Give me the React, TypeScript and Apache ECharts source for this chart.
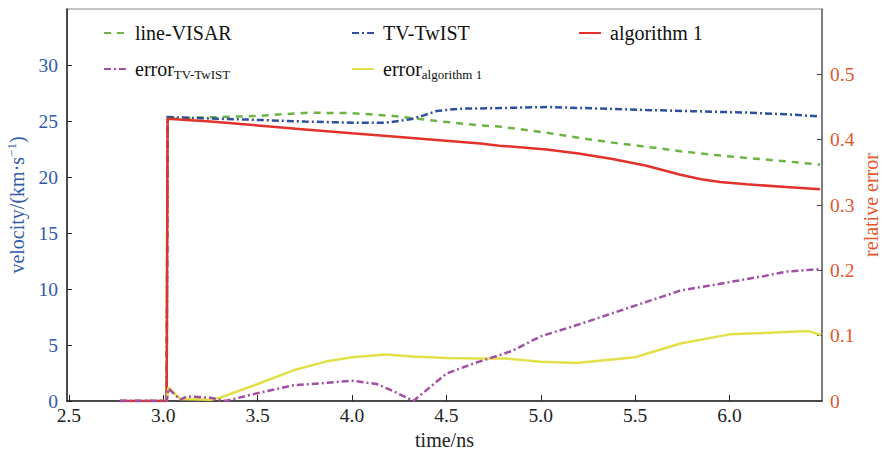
import React, { useEffect, useRef } from "react";
import * as echarts from "echarts";

// ---- data ----
const xTicks = [2.5, 3.0, 3.5, 4.0, 4.5, 5.0, 5.5, 6.0];
const leftTicks = [0, 5, 10, 15, 20, 25, 30];
const rightTicks = [0, 0.1, 0.2, 0.3, 0.4, 0.5];

const visarT = [2.77, 3.018, 3.023, 3.06, 3.15, 3.3, 3.5, 3.65, 3.78, 4.0, 4.22, 4.45, 4.68, 4.78, 5.03, 5.2, 5.38, 5.56, 5.74, 5.9, 6.09, 6.3, 6.48];
const visarV = [0, 0, 25.6, 25.2, 25.3, 25.35, 25.45, 25.62, 25.74, 25.7, 25.45, 25.0, 24.6, 24.5, 23.96, 23.5, 23.07, 22.7, 22.3, 22.0, 21.7, 21.4, 21.1];

const twistT = [2.77, 3.018, 3.023, 3.2, 3.5, 3.75, 4.0, 4.18, 4.31, 4.38, 4.45, 4.57, 4.78, 5.03, 5.3, 5.56, 5.8, 6.09, 6.3, 6.48];
const twistV = [0, 0, 25.35, 25.25, 25.1, 24.95, 24.85, 24.85, 25.15, 25.5, 25.9, 26.1, 26.15, 26.25, 26.12, 25.98, 25.88, 25.75, 25.6, 25.4];

const algT = [2.77, 3.018, 3.023, 3.25, 3.5, 3.75, 4.0, 4.3, 4.68, 4.78, 5.03, 5.2, 5.38, 5.56, 5.74, 5.85, 5.95, 6.09, 6.3, 6.48];
const algV = [0, 0, 25.2, 24.95, 24.6, 24.25, 23.9, 23.5, 23.0, 22.8, 22.45, 22.1, 21.6, 21.0, 20.2, 19.8, 19.55, 19.35, 19.1, 18.9];

const errTwistT = [2.77, 3.018, 3.028, 3.09, 3.125, 3.25, 3.33, 3.5, 3.69, 3.87, 4.0, 4.13, 4.22, 4.325, 4.5, 4.66, 4.78, 4.85, 5.0, 5.21, 5.5, 5.74, 6.0, 6.18, 6.3, 6.485];
const errTwistV = [0, 0, 0.019, 0.002, 0.007, 0.005, 0.0, 0.012, 0.024, 0.028, 0.031, 0.026, 0.015, 0.0, 0.042, 0.059, 0.07, 0.077, 0.099, 0.118, 0.146, 0.169, 0.182, 0.191, 0.198, 0.202];

const errAlgT = [3.018, 3.028, 3.09, 3.25, 3.3, 3.5, 3.69, 3.87, 4.0, 4.18, 4.32, 4.5, 4.68, 4.82, 5.0, 5.19, 5.5, 5.74, 6.0, 6.18, 6.42, 6.485];
const errAlgV = [0, 0.021, 0.003, 0.002, 0.005, 0.026, 0.047, 0.061, 0.067, 0.071, 0.068, 0.066, 0.065, 0.065, 0.06, 0.058, 0.067, 0.088, 0.102, 0.104, 0.107, 0.101];

const pair = (t: number[], v: number[]) => t.map((x, i) => [x, v[i]]);

const FONT = "'Liberation Serif', 'Times New Roman', serif";
const BLUE_TXT = "#2f5ba8";
const ORANGE_TXT = "#e0572a";

export default function App() {
  const ref = useRef<HTMLDivElement>(null);
  useEffect(() => {
    if (!ref.current) return;
    const chart = echarts.init(ref.current, undefined, { renderer: "svg" });
    const legendBase = {
      orient: "horizontal" as const,
      itemWidth: 22,
      itemHeight: 14,
      itemStyle: { opacity: 0 },
      textStyle: { fontFamily: FONT, fontSize: 20, color: "#111", padding: [0, 0, 0, 4] },
    };
    const subRich = {
      a: { fontFamily: FONT, fontSize: 20, color: "#111", lineHeight: 24 },
      b: { fontFamily: FONT, fontSize: 13, color: "#111", lineHeight: 24, verticalAlign: "bottom" as const, padding: [10, 0, 0, 0] },
    };
    chart.setOption({
      animation: false,
      backgroundColor: "#fff",
      grid: { left: 67, right: 60, top: 9, bottom: 49, show: true, borderColor: "#888", borderWidth: 1, containLabel: false, outerBoundsMode: "none" },
      legend: [
        { ...legendBase, left: 98, top: 18, data: ["line-VISAR"] },
        { ...legendBase, left: 346, top: 18, data: ["TV-TwIST"] },
        { ...legendBase, left: 573, top: 18, data: ["algorithm 1"] },
        { ...legendBase, left: 98, top: 53, data: ["errorTV"], formatter: () => "{a|error}{b|TV-TwIST}", textStyle: { ...legendBase.textStyle, rich: subRich } },
        { ...legendBase, left: 346, top: 53, data: ["errorAlg"], formatter: () => "{a|error}{b|algorithm 1}", textStyle: { ...legendBase.textStyle, rich: subRich } },
      ],
      xAxis: {
        type: "value",
        min: 2.49,
        max: 6.49,
        name: "time/ns",
        nameLocation: "middle",
        nameGap: 25,
        nameTextStyle: { fontFamily: FONT, fontSize: 20, color: "#222" },
        axisLine: { lineStyle: { color: "#222", width: 1.5 } },
        axisTick: { inside: true, length: 6, customValues: xTicks, lineStyle: { color: "#222" } },
        axisLabel: { customValues: xTicks, formatter: (v: number) => v.toFixed(1), fontFamily: FONT, fontSize: 19.5, color: "#222", margin: 4 },
        splitLine: { show: false },
      },
      yAxis: [
        {
          type: "value",
          min: 0,
          max: 35,
          position: "left",
          name: "{a|velocity/(km·s}{b|−1}{a|)}",
          nameLocation: "middle",
          nameGap: 29,
          nameRotate: 90,
          nameTextStyle: {
            rich: {
              a: { fontFamily: FONT, fontSize: 20, color: BLUE_TXT, lineHeight: 24 },
              b: { fontFamily: FONT, fontSize: 13, color: BLUE_TXT, lineHeight: 24, verticalAlign: "top", padding: [0, 0, 10, 0] },
            },
          },
          axisLine: { show: true, lineStyle: { color: "#222", width: 1.5 } },
          axisTick: { show: true, inside: true, length: 5, customValues: leftTicks, lineStyle: { color: "#222" } },
          axisLabel: { customValues: leftTicks, fontFamily: FONT, fontSize: 19.5, color: BLUE_TXT, margin: 9 },
          splitLine: { show: false },
        },
        {
          type: "value",
          min: 0,
          max: 0.6,
          position: "right",
          name: "relative error",
          nameLocation: "middle",
          nameGap: 39,
          nameMoveOverlap: false,
          nameRotate: 90,
          nameTextStyle: { fontFamily: FONT, fontSize: 20, lineHeight: 20, color: ORANGE_TXT },
          axisLine: { show: true, lineStyle: { color: "#666", width: 1.5 } },
          axisTick: { show: true, inside: true, length: 5, customValues: rightTicks, lineStyle: { color: "#444" } },
          axisLabel: { customValues: rightTicks, formatter: (v: number) => (v === 0 ? "0" : v.toFixed(1)), fontFamily: FONT, fontSize: 19.5, color: ORANGE_TXT, margin: 8 },
          splitLine: { show: false },
        },
      ],
      series: [
        { name: "line-VISAR", type: "line", yAxisIndex: 0, symbol: "none", data: pair(visarT, visarV), lineStyle: { color: "#6db444", width: 2.5, type: [7, 6] }, itemStyle: { color: "#6db444" }, z: 2 },
        { name: "TV-TwIST", type: "line", yAxisIndex: 0, symbol: "none", data: pair(twistT, twistV), lineStyle: { color: "#2c4f9e", width: 2.5, type: [7, 3, 2, 3] }, itemStyle: { color: "#2c4f9e" }, z: 3 },
        { name: "algorithm 1", type: "line", yAxisIndex: 0, symbol: "none", data: pair(algT, algV), lineStyle: { color: "#e2322b", width: 2.5 }, itemStyle: { color: "#e2322b" }, z: 4 },
        { name: "errorAlg", type: "line", yAxisIndex: 1, symbol: "none", data: pair(errAlgT, errAlgV), lineStyle: { color: "#e3df4b", width: 2.5 }, itemStyle: { color: "#e3df4b" }, z: 5 },
        { name: "errorTV", type: "line", yAxisIndex: 1, symbol: "none", data: pair(errTwistT, errTwistV), lineStyle: { color: "#a04fa2", width: 2.5, type: [7, 3, 2, 3] }, itemStyle: { color: "#a04fa2" }, z: 6 },
      ],
    });
    return () => chart.dispose();
  }, []);
  return <div ref={ref} style={{ width: 882, height: 450, position: "absolute", left: 0, top: 0 }} />;
}
